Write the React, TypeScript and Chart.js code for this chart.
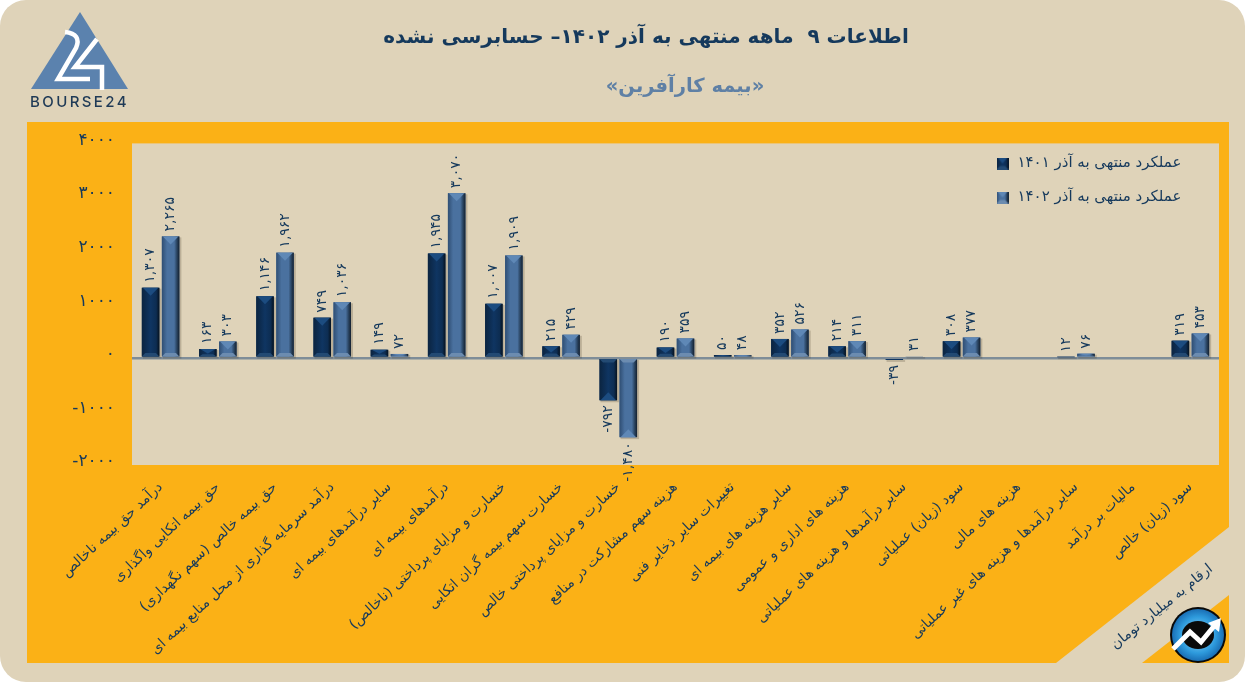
import React, { useEffect, useRef } from "react";
import { Chart, registerables } from "chart.js";

Chart.register(...registerables);

const categories = [
  "درآمد حق بیمه ناخالص",
  "حق بیمه اتکایی واگذاری",
  "حق بیمه خالص (سهم نگهداری)",
  "درآمد سرمایه گذاری از محل منابع بیمه ای",
  "سایر درآمدهای بیمه ای",
  "درآمدهای بیمه ای",
  "خسارت و مزایای پرداختی (ناخالص)",
  "خسارت سهم بیمه گران اتکایی",
  "خسارت و مزایای پرداختی خالص",
  "هزینه سهم مشارکت در منافع",
  "تغییرات سایر ذخایر فنی",
  "سایر هزینه های بیمه ای",
  "هزینه های اداری و عمومی",
  "سایر درآمدها و هزینه های عملیاتی",
  "سود (زیان) عملیاتی",
  "هزینه های مالی",
  "سایر درآمدها و هزینه های غیر عملیاتی",
  "مالیات بر درآمد",
  "سود (زیان) خالص",
];
const series1401 = [1307, 163, 1146, 749, 149, 1945, 1007, 215, -792, 190, 50, 352, 214, -39, 308, null, 12, null, 319];
const series1402 = [2265, 303, 1962, 1036, 72, 3070, 1909, 429, -1480, 359, 48, 526, 311, 31, 377, null, 76, null, 453];
const label1401 = "عملکرد منتهی به آذر ۱۴۰۱";
const label1402 = "عملکرد منتهی به آذر ۱۴۰۲";
const titleText = "اطلاعات ۹  ماهه منتهی به آذر ۱۴۰۲– حسابرسی نشده";
const subtitleText = "\u200F«بیمه کارآفرین»\u200F";
const unitText = "ارقام به میلیارد تومان";

const BEIGE = "#DFD3B9";
const ORANGE = "#FBB116";
const NAVY = "#15395C";
const DARK_BAR = "#0F3562";
const LIGHT_BAR = "#4A719F";
const FONT = "'DejaVu Sans', sans-serif";

const toFa = (s: string) => s.replace(/\d/g, (d) => "۰۱۲۳۴۵۶۷۸۹"[Number(d)]);
const fmt = (v: number) => toFa(v.toLocaleString("en-US"));

function bevel(ctx: any, x0: number, x1: number, yTop: number, yBase: number, dark: boolean) {
  const w = x1 - x0;
  const h = Math.abs(yBase - yTop);
  if (h < 1) return;
  const dir = yBase > yTop ? 1 : -1;
  const d = Math.min(w / 2, h * 0.6, 8);
  const side = Math.min(3.5, h / 2);
  const bottom = Math.min(3.5, h * 0.3);
  const g = ctx.createLinearGradient(x0, 0, x1, 0);
  if (dark) {
    g.addColorStop(0, "#0B2440");
    g.addColorStop(0.5, "#0F3562");
    g.addColorStop(0.82, "#0D2D52");
    g.addColorStop(1, "#06121F");
  } else {
    g.addColorStop(0, "#2F4E73");
    g.addColorStop(0.3, "#4A719F");
    g.addColorStop(0.7, "#4A719F");
    g.addColorStop(0.85, "#2B4664");
    g.addColorStop(1, "#14202E");
  }
  ctx.save();
  ctx.fillStyle = g;
  ctx.fillRect(x0, Math.min(yTop, yBase), w, h);
  ctx.fillStyle = dark ? "#1C4C80" : "#5F88B6";
  ctx.beginPath();
  ctx.moveTo(x0 + 1, yTop);
  ctx.lineTo(x1 - 1, yTop);
  ctx.lineTo((x0 + x1) / 2, yTop + dir * d);
  ctx.closePath();
  ctx.fill();
  ctx.fillStyle = dark ? "#234A73" : "#6C8CB0";
  ctx.beginPath();
  ctx.moveTo(x0, yBase);
  ctx.lineTo(x1, yBase);
  ctx.lineTo(x1 - side, yBase - dir * bottom);
  ctx.lineTo(x0 + side, yBase - dir * bottom);
  ctx.closePath();
  ctx.fill();
  ctx.restore();
}

function swatch(dark: boolean) {
  const c = document.createElement("canvas");
  c.width = 12;
  c.height = 12;
  const x = c.getContext("2d")!;
  bevel(x, 0, 12, 0, 12, dark);
  return c;
}

const backdrop = {
  id: "backdrop",
  beforeDraw(chart: any) {
    const { ctx, chartArea: a, width, height } = chart;
    ctx.save();
    ctx.fillStyle = BEIGE;
    ctx.beginPath();
    ctx.roundRect(0, 0, width, height, 26);
    ctx.fill();
    ctx.fillStyle = ORANGE;
    ctx.beginPath();
    ctx.moveTo(27, 122);
    ctx.lineTo(1229, 122);
    ctx.lineTo(1229, 527);
    ctx.lineTo(1056, 663);
    ctx.lineTo(27, 663);
    ctx.closePath();
    ctx.fill();
    ctx.beginPath();
    ctx.moveTo(1229, 595);
    ctx.lineTo(1229, 663);
    ctx.lineTo(1142, 663);
    ctx.closePath();
    ctx.fill();
    ctx.fillStyle = BEIGE;
    ctx.fillRect(a.left, a.top, a.right - a.left, a.bottom - a.top);

    ctx.fillStyle = "#5B82AE";
    ctx.beginPath();
    ctx.moveTo(80, 12);
    ctx.lineTo(128, 89);
    ctx.lineTo(31, 89);
    ctx.closePath();
    ctx.fill();
    ctx.strokeStyle = "#FFFFFF";
    ctx.lineWidth = 4.5;
    ctx.lineJoin = "miter";
    ctx.beginPath();
    ctx.moveTo(65, 32);
    ctx.quadraticCurveTo(82, 34, 76, 48);
    ctx.lineTo(58, 79);
    ctx.lineTo(90, 79);
    ctx.stroke();
    ctx.beginPath();
    ctx.moveTo(97, 39);
    ctx.lineTo(75, 67);
    ctx.lineTo(102, 67);
    ctx.lineTo(102, 90);
    ctx.stroke();
    ctx.fillStyle = "#1F3A56";
    ctx.font = "500 15px Inter, sans-serif";
    ctx.textAlign = "left";
    ctx.textBaseline = "middle";
    (ctx as any).letterSpacing = "2.4px";
    ctx.fillText("BOURSE24", 30, 102);
    (ctx as any).letterSpacing = "0px";

    ctx.save();
    ctx.translate(1162, 607);
    ctx.rotate((-39 * Math.PI) / 180);
    ctx.fillStyle = NAVY;
    ctx.font = `14px ${FONT}`;
    ctx.textAlign = "center";
    ctx.fillText(unitText, 0, 0);
    ctx.restore();

    const cx = 1198;
    const cy = 635;
    ctx.fillStyle = "#0A0A0A";
    ctx.beginPath();
    ctx.arc(cx, cy, 28, 0, Math.PI * 2);
    ctx.fill();
    const rg = ctx.createRadialGradient(cx, cy, 6, cx, cy, 26);
    rg.addColorStop(0, "#7CC8F0");
    rg.addColorStop(0.6, "#2E9BDD");
    rg.addColorStop(1, "#1A6FB5");
    ctx.fillStyle = rg;
    ctx.beginPath();
    ctx.arc(cx, cy, 26, 0, Math.PI * 2);
    ctx.fill();
    ctx.fillStyle = "#0A0A0A";
    ctx.beginPath();
    ctx.ellipse(cx, cy, 16, 14, 0, 0, Math.PI * 2);
    ctx.fill();
    ctx.strokeStyle = "#FFFFFF";
    ctx.lineWidth = 5;
    ctx.lineJoin = "miter";
    ctx.beginPath();
    ctx.moveTo(cx - 25, cy + 14);
    ctx.lineTo(cx - 8, cy - 3);
    ctx.lineTo(cx + 3, cy + 7);
    ctx.lineTo(cx + 17, cy - 10);
    ctx.stroke();
    ctx.fillStyle = "#FFFFFF";
    ctx.beginPath();
    ctx.moveTo(cx + 23, cy - 17);
    ctx.lineTo(cx + 21, cy - 3);
    ctx.lineTo(cx + 10, cy - 12);
    ctx.closePath();
    ctx.fill();
    ctx.restore();
  },
};

const barFace = {
  id: "barFace",
  beforeDatasetsDraw(chart: any) {
    const { ctx } = chart;
    ctx.save();
    ctx.fillStyle = "rgba(60,50,30,0.22)";
    chart.data.datasets.forEach((ds: any, di: number) => {
      chart.getDatasetMeta(di).data.forEach((el: any, i: number) => {
        if (ds.data[i] == null) return;
        const w = el.width;
        ctx.fillRect(el.x - w / 2 + 1, Math.min(el.y, el.base) + 1, w + 1, Math.abs(el.base - el.y) + 1);
      });
    });
    ctx.restore();
  },
  afterDatasetsDraw(chart: any) {
    const { ctx } = chart;
    chart.data.datasets.forEach((ds: any, di: number) => {
      chart.getDatasetMeta(di).data.forEach((el: any, i: number) => {
        const v = ds.data[i];
        if (v == null) return;
        bevel(ctx, el.x - el.width / 2, el.x + el.width / 2, el.y, el.base, di === 0);
        ctx.save();
        ctx.translate(el.x, v >= 0 ? el.y - 5 : el.y + 5);
        ctx.rotate(-Math.PI / 2);
        ctx.fillStyle = NAVY;
        ctx.font = `14px ${FONT}`;
        (ctx as any).letterSpacing = "1.5px";
        ctx.textBaseline = "middle";
        ctx.textAlign = v >= 0 ? "left" : "right";
        ctx.fillText(v < 0 ? "-" + fmt(-v) : fmt(v), 0, 0);
        ctx.restore();
      });
    });
  },
};

const placeBlocks = {
  id: "placeBlocks",
  afterLayout(chart: any) {
    const legend = chart.legend;
    if (legend) {
      legend.left = 976;
      legend.top = 137;
    }
    chart.boxes.forEach((b: any) => {
      if (b.options && b.options.text === titleText) {
        b.left = 47;
        b.right = 1245;
      }
      if (b.options && b.options.text === subtitleText) {
        b.left = 125;
        b.right = 1245;
      }
    });
  },
};

export default function App() {
  const ref = useRef<HTMLCanvasElement>(null);
  useEffect(() => {
    const swatches = [swatch(true), swatch(false)];
    const chart = new Chart(ref.current!, {
      type: "bar",
      plugins: [backdrop, barFace, placeBlocks],
      data: {
        labels: categories,
        datasets: [
          { label: label1401, data: series1401, backgroundColor: DARK_BAR, categoryPercentage: 0.7, barPercentage: 0.875 },
          { label: label1402, data: series1402, backgroundColor: LIGHT_BAR, categoryPercentage: 0.7, barPercentage: 0.875 },
        ],
      },
      options: {
        responsive: false,
        animation: false,
        layout: { padding: { left: 0, right: 26, top: 0, bottom: 0 } },
        plugins: {
          tooltip: { enabled: false },
          title: {
            display: true,
            text: titleText,
            color: NAVY,
            font: { family: FONT, size: 20, weight: "bold" },
            padding: { top: 26, bottom: 11 },
          },
          subtitle: {
            display: true,
            text: subtitleText,
            color: "#5F80A5",
            font: { family: FONT, size: 19.5, weight: "bold" },
            padding: { top: 14.5, bottom: 44.5 },
          },
          legend: {
            position: "chartArea",
            align: "start",
            labels: {
              color: NAVY,
              font: { family: FONT, size: 15 },
              usePointStyle: true,
              padding: 19,
              generateLabels: (c: any) =>
                c.data.datasets.map((d: any, i: number) => ({
                  text: d.label,
                  fontColor: NAVY,
                  pointStyle: swatches[i],
                  datasetIndex: i,
                  lineWidth: 0,
                })),
            },
          },
        } as any,
        scales: {
          x: {
            grid: { display: false },
            border: { display: false },
            afterFit: (s: any) => {
              s.height = 217;
            },
            ticks: {
              autoSkip: false,
              minRotation: 43,
              maxRotation: 43,
              color: NAVY,
              padding: 6,
              font: { family: FONT, size: 14 },
              callback: (_v: any, i: number) => categories[i] + "\u200F",
            },
          },
          y: {
            min: -2000,
            max: 4000,
            border: { display: false },
            afterFit: (s: any) => {
              s.width = 132;
            },
            grid: {
              drawTicks: false,
              color: (c: any) => (c.tick && c.tick.value === 0 ? "#7F8D98" : "rgba(0,0,0,0)"),
              lineWidth: (c: any) => (c.tick && c.tick.value === 0 ? 2.5 : 0),
            },
            ticks: {
              stepSize: 1000,
              color: NAVY,
              padding: 17,
              labelOffset: -3,
              font: { family: FONT, size: 17 },
              callback: (v: any) => (Number(v) < 0 ? "-" + toFa(String(-v)) : toFa(String(v))),
            },
          },
        },
      } as any,
    });
    return () => chart.destroy();
  }, []);
  return (
    <canvas
      ref={ref}
      width={1245}
      height={682}
      style={{ position: "absolute", left: 0, top: 0, display: "block" }}
    />
  );
}
